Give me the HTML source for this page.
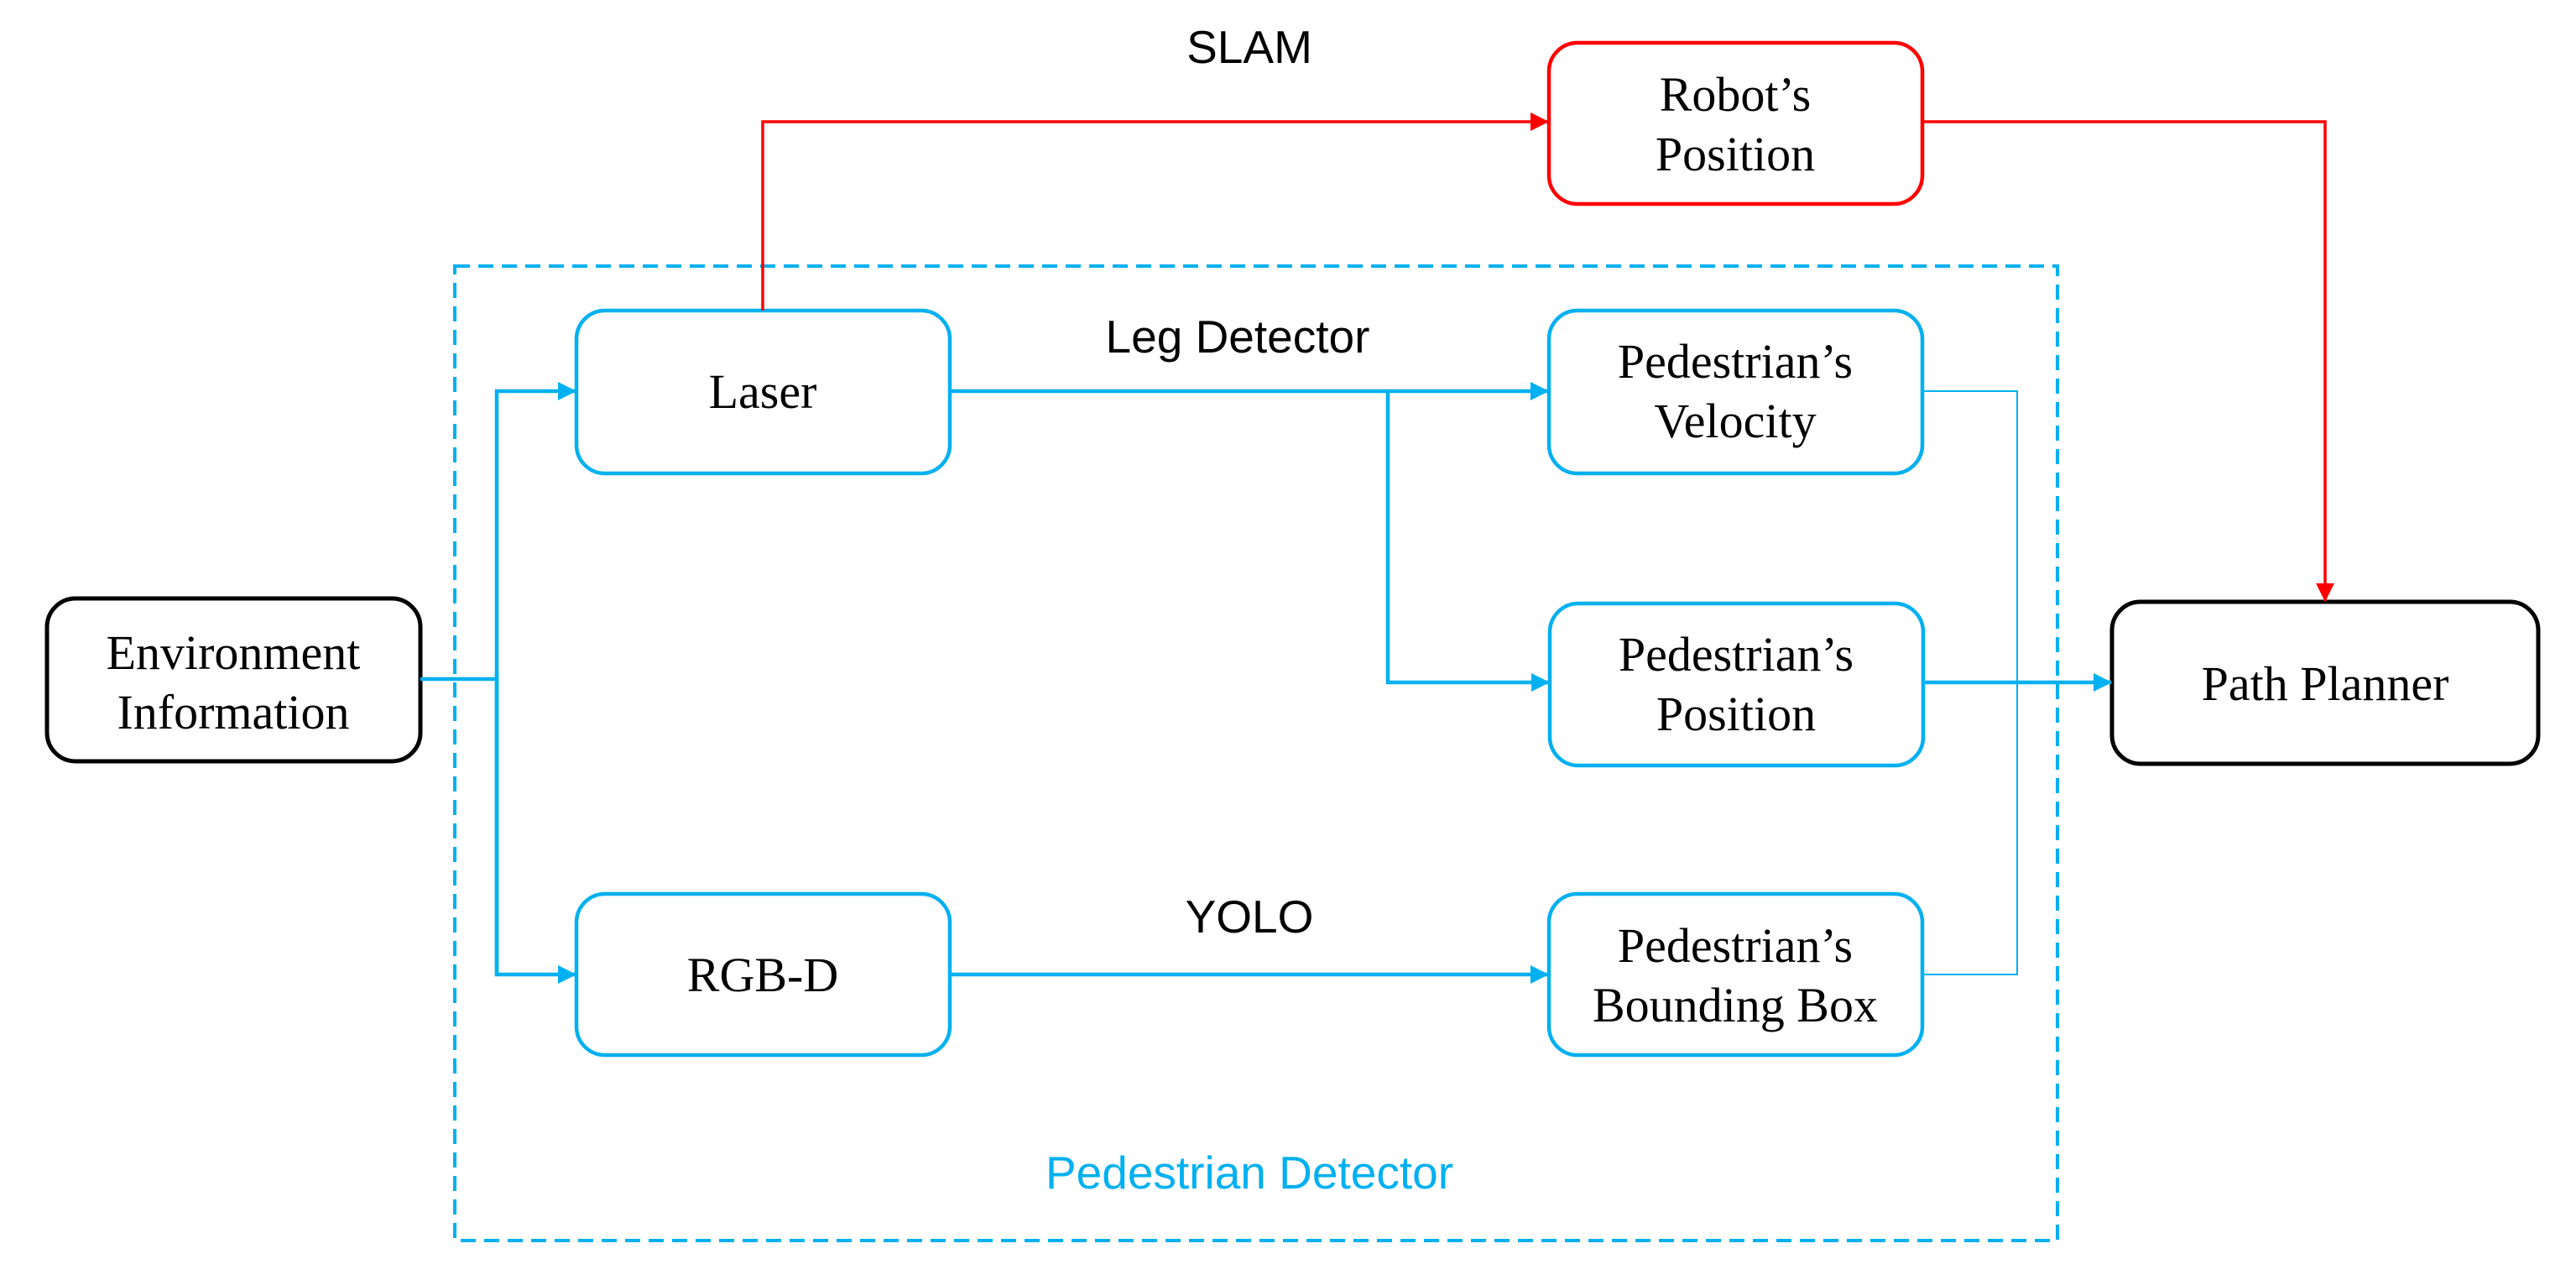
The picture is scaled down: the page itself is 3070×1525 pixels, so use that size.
<!DOCTYPE html>
<html><head><meta charset="utf-8"><style>
html,body{margin:0;padding:0;background:#fff;}
svg{display:block}
.t{font-family:"Liberation Serif",serif;font-size:58px;fill:#000;text-anchor:middle}
.s{font-family:"Liberation Sans",sans-serif;font-size:55px;fill:#000;text-anchor:middle}
</style></head><body>
<svg width="3070" height="1525" viewBox="0 0 3070 1525" xmlns="http://www.w3.org/2000/svg">
<defs>
<marker id="abL" markerWidth="22" markerHeight="22" refX="21" refY="11" orient="auto" markerUnits="userSpaceOnUse" viewBox="0 0 22 22"><path d="M0,0 L22,11 L0,22 z" fill="#00b0f0"/></marker>
<marker id="arL" markerWidth="22" markerHeight="22" refX="21" refY="11" orient="auto" markerUnits="userSpaceOnUse" viewBox="0 0 22 22"><path d="M0,0 L22,11 L0,22 z" fill="#ff0000"/></marker>
</defs>
<rect x="542" y="317" width="1910" height="1161" fill="none" stroke="#00b0f0" stroke-width="4" stroke-dasharray="18,10"/>
<rect x="56" y="713" width="445" height="194" rx="34" fill="#fff" stroke="#000" stroke-width="5"/>
<rect x="687" y="370" width="445" height="194" rx="34" fill="#fff" stroke="#00b0f0" stroke-width="4.5"/>
<rect x="687" y="1065" width="445" height="192" rx="34" fill="#fff" stroke="#00b0f0" stroke-width="4.5"/>
<rect x="1846" y="370" width="445" height="194" rx="34" fill="#fff" stroke="#00b0f0" stroke-width="4.5"/>
<rect x="1847" y="719" width="445" height="193" rx="34" fill="#fff" stroke="#00b0f0" stroke-width="4.5"/>
<rect x="1846" y="1065" width="445" height="192" rx="34" fill="#fff" stroke="#00b0f0" stroke-width="4.5"/>
<rect x="1846" y="51" width="445" height="192" rx="34" fill="#fff" stroke="#ff0000" stroke-width="4.5"/>
<rect x="2517" y="717" width="508" height="193" rx="34" fill="#fff" stroke="#000" stroke-width="5"/>
<g fill="none" stroke="#00b0f0" stroke-width="4.5">
<path d="M501,809 H592"/>
<path d="M592,1161 V466 H686" marker-end="url(#abL)"/>
<path d="M592,800 V1161 H686" marker-end="url(#abL)"/>
<path d="M1132,466 H1845" marker-end="url(#abL)"/>
<path d="M1654,466 V813 H1846" marker-end="url(#abL)"/>
<path d="M1132,1161 H1845" marker-end="url(#abL)"/>
<path d="M2292,813 H2516" marker-end="url(#abL)"/>
</g>
<path d="M2292,466 H2404 V1161 H2292" fill="none" stroke="#00b0f0" stroke-width="2"/>
<g fill="none" stroke="#ff0000" stroke-width="3.5">
<path d="M909,370 V145 H1845" marker-end="url(#arL)"/>
<path d="M2291,145 H2771 V716" marker-end="url(#arL)"/>
</g>
<text class="t" x="278" y="797">Environment</text>
<text class="t" x="278" y="868">Information</text>
<text class="t" x="909" y="486">Laser</text>
<text class="t" x="909" y="1181">RGB-D</text>
<text class="t" x="2068" y="450">Pedestrian’s</text>
<text class="t" x="2068" y="521">Velocity</text>
<text class="t" x="2069" y="799">Pedestrian’s</text>
<text class="t" x="2069" y="870">Position</text>
<text class="t" x="2068" y="1146">Pedestrian’s</text>
<text class="t" x="2068" y="1217">Bounding Box</text>
<text class="t" x="2068" y="132">Robot’s</text>
<text class="t" x="2068" y="203">Position</text>
<text class="t" x="2771" y="834">Path Planner</text>
<text class="s" x="1489" y="75">SLAM</text>
<text class="s" x="1475" y="420">Leg Detector</text>
<text class="s" x="1489" y="1111">YOLO</text>
<text class="s" x="1489" y="1416" style="fill:#00b0f0">Pedestrian Detector</text>
</svg>
</body></html>
